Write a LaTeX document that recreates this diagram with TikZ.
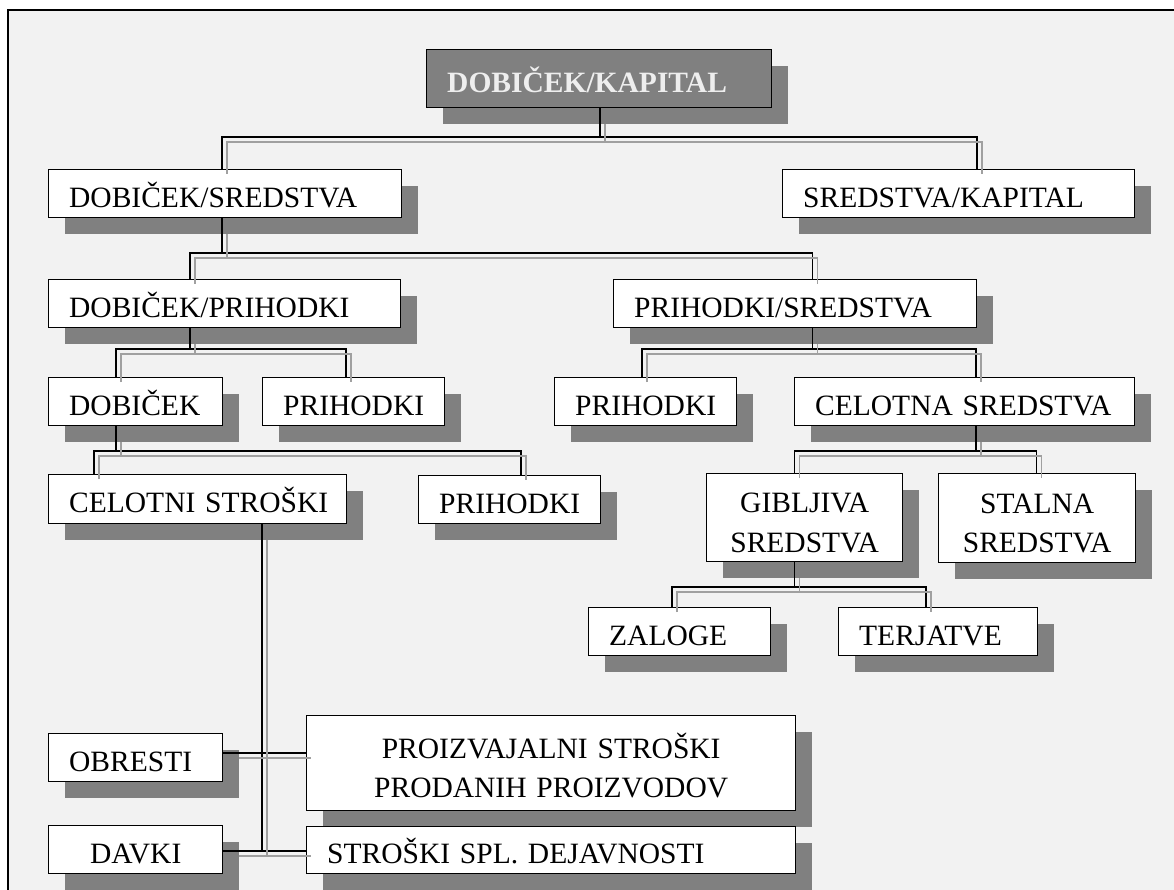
\documentclass[tikz,border=0pt]{standalone}
\usepackage{fontspec}
\setmainfont{Liberation Serif}
\usetikzlibrary{shadows,calc}

\definecolor{paper}{HTML}{F2F2F2}
\definecolor{shade}{HTML}{808080}
\definecolor{railc}{HTML}{A0A0A0}
\definecolor{headtext}{HTML}{EEEEEE}

\tikzset{
  card/.style args={#1/#2}{
    draw=black, line width=1.4pt, fill=white, anchor=north west,
    minimum width=#1, minimum height=#2,
    text width=#1-41pt, inner xsep=20.5pt, inner ysep=0pt,
    align=left, text height=27.5pt, text depth=0pt,
    font=\fontsize{29.5}{39.5}\selectfont,
    drop shadow={fill=shade, opacity=1, shadow xshift=16pt, shadow yshift=-16pt}},
  mid/.style={align=center},
  twoline/.style={text height=29.5pt, text depth=39.5pt},
  headcard/.style={fill=shade, text=headtext, font=\fontsize{29.5}{39.5}\selectfont\bfseries},
  wire/.style={draw=black, line width=1.4pt},
  rail/.style={draw=railc, line width=1.6pt},
}

% one parent feeding two children through a horizontal bar
% #1 parent, #2 trunk point on bar, #3 left drop point, #4 left child, #5 right drop point, #6 right child
\newcommand\forktwo[6]{%
  \draw[wire] (#1.south -| #2) -- (#2);
  \draw[wire] (#4.north -| #3) -- (#3) -- (#5) -- (#6.north -| #5);
  \draw[rail] ($(#1.south -| #2)+(5,16)$) -- ($(#2)+(5,5)$);
  \draw[rail] ($(#4.north -| #3)+(5,5)$) -- ($(#3)+(5,5)$) -- ($(#5)+(5,5)$) -- ($(#6.north -| #5)+(5,5)$);
}

\begin{document}
\begin{tikzpicture}[x=1pt, y=-1pt]
\useasboundingbox (0,0) rectangle (1174,890);
\fill[white] (0,0) rectangle (1174,890);
\fill[paper] (8,10) rectangle (1174,890);
\draw[line width=1.5pt] (8,890) -- (8,10) -- (1174,10);

% boxes
\node[card=345pt/58pt, headcard] (root) at (426,49) {DOBIČEK/KAPITAL};

\node[card=353pt/48pt] (ds) at (48,169) {DOBIČEK/SREDSTVA};
\node[card=352pt/48pt] (sk) at (782,169) {SREDSTVA/KAPITAL};

\node[card=352pt/48pt] (dp) at (48,279) {DOBIČEK/PRIHODKI};
\node[card=363pt/48pt] (ps) at (613,279) {PRIHODKI/SREDSTVA};

\node[card=174pt/48pt] (dob) at (48,377) {DOBIČEK};
\node[card=182pt/48pt] (p1) at (262,377) {PRIHODKI};
\node[card=182pt/48pt] (p2) at (554,377) {PRIHODKI};
\node[card=340pt/48pt] (cs) at (794,377) {CELOTNA~SREDSTVA};

\node[card=298pt/49pt] (cst) at (48,474) {CELOTNI~STROŠKI};
\node[card=182pt/48pt] (p3) at (418,475) {PRIHODKI};

\node[card=196pt/88pt, mid, twoline] (gs) at (706,473) {GIBLJIVA\\SREDSTVA};
\node[card=197pt/89pt, mid, twoline] (ss) at (938,473) {STALNA\\SREDSTVA};

\node[card=182pt/48pt] (zal) at (588,607) {ZALOGE};
\node[card=199pt/48pt] (ter) at (838,607) {TERJATVE};

\node[card=174pt/48pt] (obr) at (48,733) {OBRESTI};
\node[card=174pt/48pt, mid] (dav) at (48,825) {DAVKI};
\node[card=489pt/95pt, mid, twoline] (pp) at (306,715) {PROIZVAJALNI STROŠKI\\PRODANIH PROIZVODOV};
\node[card=489pt/47pt] (spl) at (306,826) {STROŠKI~SPL.~DEJAVNOSTI};

% bars of each branching
\coordinate (f1) at (600,137);   \coordinate (f1l) at (222,137);   \coordinate (f1r) at (977,137);
\coordinate (f2) at (222,253);   \coordinate (f2l) at (190,253);   \coordinate (f2r) at (812.5,253);
\coordinate (f3) at (190,349);   \coordinate (f3l) at (116,349);   \coordinate (f3r) at (346,349);
\coordinate (f4) at (812.5,349); \coordinate (f4l) at (642,349);   \coordinate (f4r) at (976,349);
\coordinate (f5) at (116,451);   \coordinate (f5l) at (94,451);    \coordinate (f5r) at (521,451);
\coordinate (f6) at (976,451);   \coordinate (f6l) at (794.5,451); \coordinate (f6r) at (1036.5,451);
\coordinate (f7) at (794.5,587); \coordinate (f7l) at (672,587);   \coordinate (f7r) at (926,587);

\forktwo{root}{f1}{f1l}{ds}{f1r}{sk}
\forktwo{ds}{f2}{f2l}{dp}{f2r}{ps}
\forktwo{dp}{f3}{f3l}{dob}{f3r}{p1}
\forktwo{ps}{f4}{f4l}{p2}{f4r}{cs}
\forktwo{dob}{f5}{f5l}{cst}{f5r}{p3}
\forktwo{cs}{f6}{f6l}{gs}{f6r}{ss}
\forktwo{gs}{f7}{f7l}{zal}{f7r}{ter}

% cost breakdown: one trunk crossing two rows
\coordinate (g1) at (262,753);
\coordinate (g2) at (262,851);
\draw[wire] (cst.south -| g1) -- (g2);
\draw[wire] (obr.east |- g1) -- (pp.west |- g1);
\draw[wire] (dav.east |- g2) -- (spl.west |- g2);
\draw[rail] ($(cst.south -| g1)+(5,16)$) -- ($(g2)+(5,5)$);
\draw[rail] ($(obr.east |- g1)+(16,5)$) -- ($(pp.west |- g1)+(5,5)$);
\draw[rail] ($(dav.east |- g2)+(16,5)$) -- ($(spl.west |- g2)+(5,5)$);
\end{tikzpicture}
\end{document}
